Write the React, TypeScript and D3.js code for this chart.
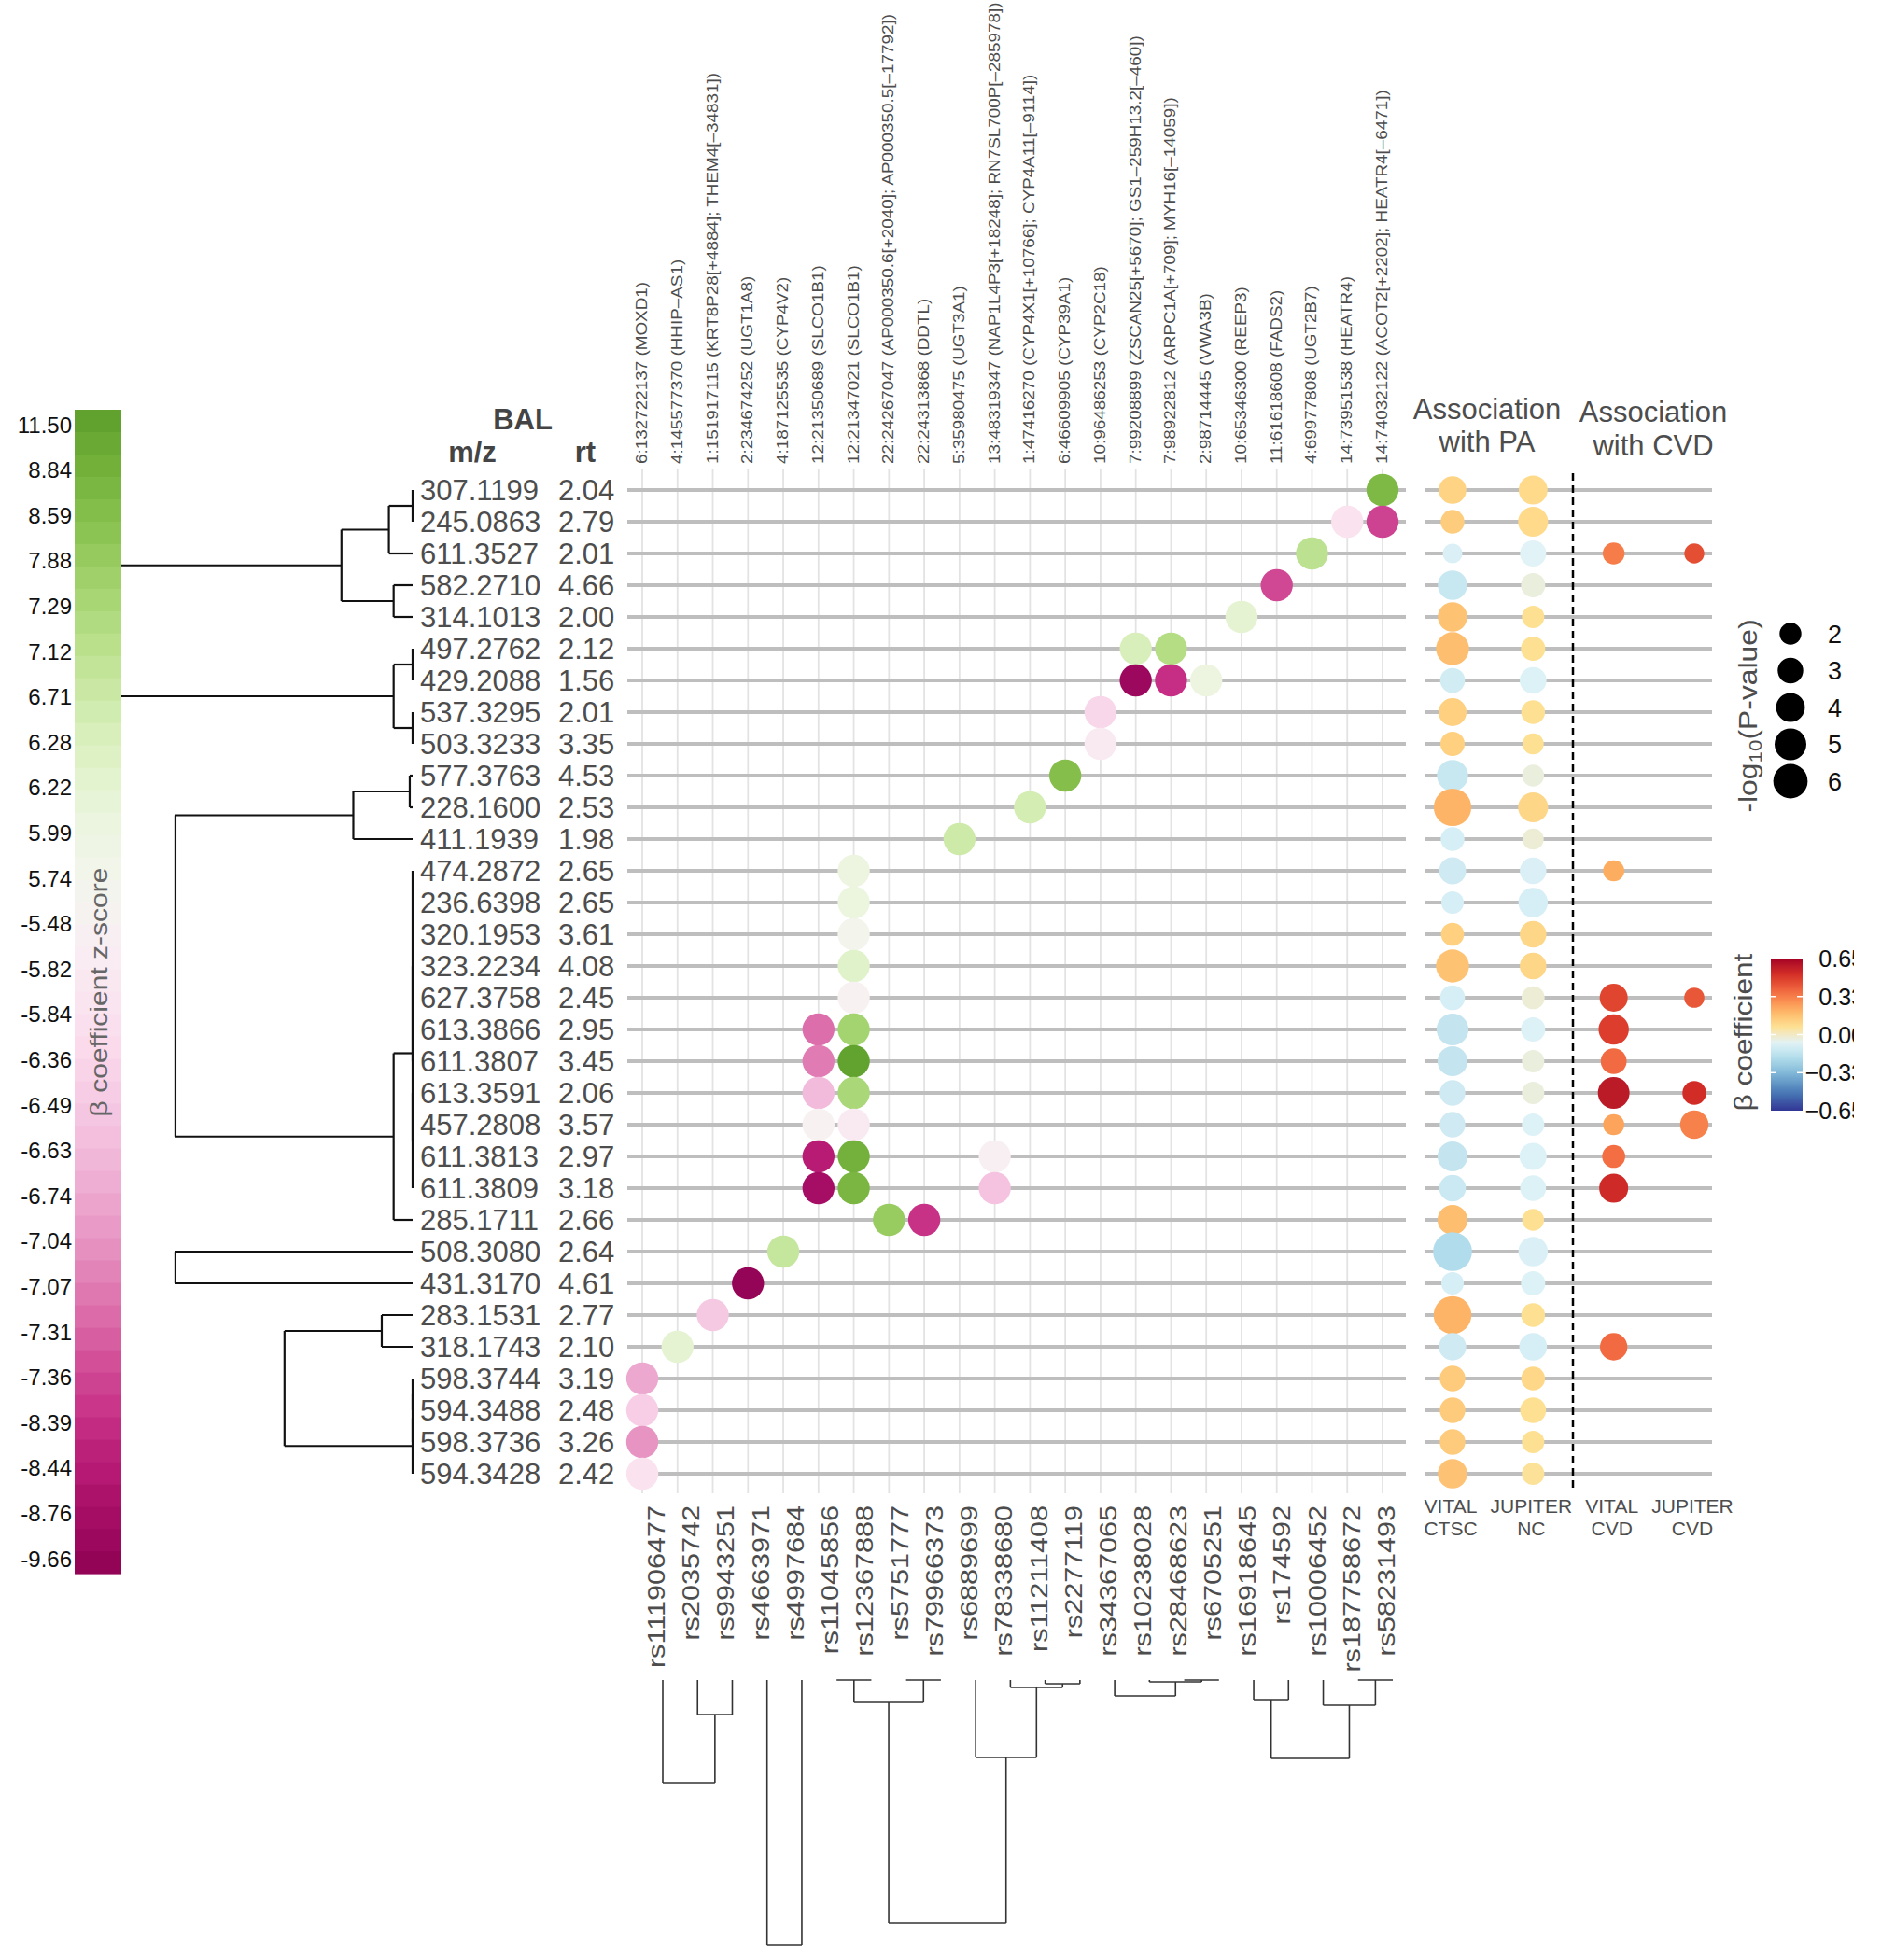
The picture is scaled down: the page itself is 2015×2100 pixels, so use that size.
import React, { useEffect } from "react";
import * as d3 from "d3";

// metabolite rows (BAL)
const mzLabels = [
  "307.1199", "245.0863", "611.3527", "582.2710", "314.1013", "497.2762", "429.2088", "537.3295",
  "503.3233", "577.3763", "228.1600", "411.1939", "474.2872", "236.6398", "320.1953", "323.2234",
  "627.3758", "613.3866", "611.3807", "613.3591", "457.2808", "611.3813", "611.3809", "285.1711",
  "508.3080", "431.3170", "283.1531", "318.1743", "598.3744", "594.3488", "598.3736", "594.3428",
];
const rtLabels = [
  "2.04", "2.79", "2.01", "4.66", "2.00", "2.12", "1.56", "2.01", "3.35", "4.53", "2.53", "1.98",
  "2.65", "2.65", "3.61", "4.08", "2.45", "2.95", "3.45", "2.06", "3.57", "2.97", "3.18", "2.66",
  "2.64", "4.61", "2.77", "2.10", "3.19", "2.48", "3.26", "2.42",
];

// SNP columns
const snpPositions = [
  "6:132722137 (MOXD1)", "4:145577370 (HHIP\u2013AS1)", "1:151917115 (KRT8P28[+4884]; THEM4[\u201334831])",
  "2:234674252 (UGT1A8)", "4:187125535 (CYP4V2)", "12:21350689 (SLCO1B1)", "12:21347021 (SLCO1B1)",
  "22:24267047 (AP000350.6[+2040]; AP000350.5[\u201317792])", "22:24313868 (DDTL)", "5:35980475 (UGT3A1)",
  "13:48319347 (NAP1L4P3[+18248]; RN7SL700P[\u2013285978])", "1:47416270 (CYP4X1[+10766]; CYP4A11[\u20139114])",
  "6:46609905 (CYP39A1)", "10:96486253 (CYP2C18)", "7:99208899 (ZSCAN25[+5670]; GS1\u2013259H13.2[\u2013460])",
  "7:98922812 (ARPC1A[+709]; MYH16[\u201314059])", "2:98714445 (VWA3B)", "10:65346300 (REEP3)",
  "11:61618608 (FADS2)", "4:69977808 (UGT2B7)", "14:73951538 (HEATR4)", "14:74032122 (ACOT2[+2202]; HEATR4[\u20136471])",
];
const snpIds = [
  "rs111906477", "rs2035742", "rs9943251", "rs4663971", "rs4997684", "rs11045856", "rs12367888",
  "rs5751777", "rs79966373", "rs6889699", "rs78338680", "rs11211408", "rs2277119", "rs34367065",
  "rs10238028", "rs28468623", "rs6705251", "rs16918645", "rs174592", "rs10006452", "rs187758672", "rs58231493",
];

// z-score legend ticks
const zTicks = [
  11.5, 8.84, 8.59, 7.88, 7.29, 7.12, 6.71, 6.28, 6.22, 5.99, 5.74, -5.48, -5.82, -5.84, -6.36, -6.49,
  -6.63, -6.74, -7.04, -7.07, -7.31, -7.36, -8.39, -8.44, -8.76, -9.66,
];

// per metabolite row: [snp column, beta z-score]
const zDots: [number, number][][] = [
  [[21, 8.7]], [[20, -5.84], [21, -7.5]], [[19, 7.12]], [[18, -7.36]], [[17, 6.22]],
  [[14, 6.35], [15, 7.2]], [[14, -9.3], [15, -8.39], [16, 6.0]], [[13, -6.36]], [[13, -5.82]],
  [[12, 8.6]], [[11, 6.5]], [[9, 6.71]], [[6, 5.99]], [[6, 6.05]], [[6, 5.74]], [[6, 6.25]],
  [[6, -5.48]], [[5, -7.2], [6, 7.5]], [[5, -7.07], [6, 11.5]], [[5, -6.63], [6, 7.3]],
  [[5, -5.48], [6, -5.82]], [[5, -8.44], [6, 8.84], [10, -5.6]], [[5, -8.76], [6, 8.75], [10, -6.55]],
  [[7, 7.88], [8, -8.2]], [[4, 6.9]], [[3, -9.66]], [[2, -6.49]], [[1, 6.22]],
  [[0, -6.74]], [[0, -6.45]], [[0, -7.04]], [[0, -5.84]],
];

// association with PA
const ctscBeta = [
  0.11, 0.13, -0.09, -0.14, 0.16, 0.17, -0.11, 0.12, 0.12, -0.14, 0.2, -0.1, -0.12, -0.1, 0.12, 0.16,
  -0.1, -0.15, -0.15, -0.12, -0.12, -0.15, -0.13, 0.17, -0.2, -0.1, 0.2, -0.12, 0.135, 0.135, 0.135, 0.158,
];
const ctscLogP = [
  3.6, 2.5, 1.5, 4.2, 4.2, 5.5, 2.8, 3.76, 2.64, 4.8, 7.3, 2.5, 3.46, 2.14, 2.3, 5.5,
  2.8, 5.1, 4.4, 3.0, 3.0, 4.4, 3.35, 4.4, 7.9, 2.14, 7.4, 3.55, 3.0, 3.0, 3.0, 4.2,
];
const ncBeta = [
  0.09, 0.09, -0.07, -0.035, 0.07, 0.07, -0.08, 0.07, 0.07, -0.035, 0.1, -0.025, -0.09, -0.1, 0.1, 0.1,
  -0.025, -0.08, -0.035, -0.035, -0.08, -0.08, -0.08, 0.07, -0.09, -0.08, 0.07, -0.1, 0.095, 0.07, 0.07, 0.06,
];
const ncLogP = [
  4.0, 4.4, 3.2, 2.64, 2.14, 2.64, 3.35, 2.5, 1.85, 2.0, 4.4, 1.85, 3.3, 4.2, 3.3, 3.3,
  2.3, 2.64, 2.14, 2.14, 2.14, 3.46, 3.1, 2.0, 4.2, 2.64, 2.5, 3.65, 2.5, 3.1, 2.14, 2.14,
];
// association with CVD: [row, beta, -log10 p]
const vitalCvd: [number, number, number][] = [
  [2, 0.33, 2.0], [12, 0.22, 1.85], [16, 0.46, 3.76], [17, 0.48, 4.5], [18, 0.37, 3.1],
  [19, 0.585, 5.0], [20, 0.24, 1.85], [21, 0.36, 2.3], [22, 0.53, 4.06], [27, 0.37, 3.55],
];
const jupiterCvd: [number, number, number][] = [
  [2, 0.44, 1.55], [16, 0.42, 1.6], [19, 0.52, 2.5], [20, 0.32, 3.86],
];

const studyCols = ["VITAL CTSC", "JUPITER NC", "VITAL CVD", "JUPITER CVD"];
const sizeBreaks = [2, 3, 4, 5, 6];
const betaBreaks = [0.65, 0.325, 0, -0.325, -0.65];
const betaBreakLabels = ["0.65", "0.33", "0.00", "\u22120.33", "\u22120.65"];

// dendrograms: leaf = index, node = { h: height, c: children }
type DNode = number | { h: number; c: DNode[] };
const rowTrees: DNode[] = [
  { h: 13, c: [
    { h: 3, c: [{ h: 1, c: [{ h: 0, c: [0, 1] }, 2] }, { h: 0.8, c: [3, 4] }] },
    { h: 0.8, c: [{ h: 0, c: [5, 6] }, { h: 0, c: [7, 8] }] },
  ] },
  { h: 10, c: [
    { h: 2.5, c: [{ h: 0.12, c: [9, 10] }, 11] },
    { h: 0.8, c: [{ h: 0, c: [{ h: 0, c: [12, 13, 14, 15, 16, 17, 18] }, { h: 0, c: [19, 20, 21, 22] }] }, 23] },
  ] },
  { h: 10, c: [24, 25] },
  { h: 5.4, c: [{ h: 1.3, c: [26, 27] }, { h: 0, c: [{ h: 0, c: [{ h: 0, c: [28, 29] }, 30] }, 31] }] },
];
const colTrees: DNode[] = [
  { h: 1.1, c: [0, { h: 0.37, c: [1, 2] }] },
  { h: 2.84, c: [3, 4] },
  { h: 2.6, c: [
    { h: 0.24, c: [{ h: 0, c: [5, 6] }, { h: 0, c: [7, 8] }] },
    { h: 0.83, c: [9, { h: 0.08, c: [10, { h: 0.04, c: [11, 12] }] }] },
  ] },
  { h: 0.17, c: [13, { h: 0.02, c: [14, { h: 0, c: [15, 16] }] }] },
  { h: 0.84, c: [{ h: 0.21, c: [17, 18] }, { h: 0.27, c: [19, { h: 0, c: [20, 21] }] }] },
];

type Seg = { a1: number; h1: number; a2: number; h2: number };
function walk(node: DNode, pos: (i: number) => number, hs: (h: number) => number, out: Seg[]): { p: number; hp: number } {
  if (typeof node === "number") return { p: pos(node), hp: hs(0) };
  const kids = node.c.map((k) => walk(k, pos, hs, out));
  const hp = hs(node.h);
  const first = kids[0].p;
  const last = kids[kids.length - 1].p;
  out.push({ a1: first, h1: hp, a2: last, h2: hp });
  kids.forEach((k) => out.push({ a1: k.p, h1: hp, a2: k.p, h2: k.hp }));
  return { p: (first + last) / 2, hp };
}

const FONT = "'Liberation Sans', Arial, Helvetica, sans-serif";
const W = 2015;
const H = 2100;

export default function App() {
  useEffect(() => {
    document.body.style.margin = "0";
  }, []);

  const rowY = d3.scalePoint<number>().domain(d3.range(32)).range([525, 1579]);
  const colX = d3.scalePoint<number>().domain(d3.range(22)).range([688, 1481]);
  const leafX = d3.scalePoint<number>().domain(d3.range(22)).range([710, 1492]);
  const studyX = d3.scalePoint<string>().domain(studyCols).range([1556, 1815]);

  // left legend
  const barTop = 439;
  const barBottom = 1686;
  const tickY = d3.scalePoint<number>().domain(d3.range(zTicks.length)).range([barTop, barBottom]).padding(0.33);
  const zToY = d3.scaleLinear().domain(zTicks).range(zTicks.map((_, i) => tickY(i) as number)).clamp(true);
  const piyg = (f: number) => {
    const mid = 0.422;
    const t = f < mid ? 0.5 + ((mid - f) / mid) * 0.37 : (0.5 * (1 - f)) / (1 - mid);
    return d3.interpolatePiYG(t);
  };
  const zColor = (z: number) => piyg((zToY(z) - barTop) / (barBottom - barTop));
  const nBlocks = 52;
  const blockH = (barBottom - barTop) / nBlocks;

  // beta colour + size
  const rdylbu = ["#313695", "#4575b4", "#74add1", "#abd9e9", "#e0f3f8", "#fee090", "#fdae61", "#f46d43", "#d73027", "#a50026"];
  const betaColor = d3
    .scaleLinear<string>()
    .domain(rdylbu.map((_, i) => -0.65 + (i * 1.3) / (rdylbu.length - 1)))
    .range(rdylbu)
    .interpolate(d3.interpolateLab)
    .clamp(true);
  const rScale = d3.scaleRadial().domain([2, 6]).range([11.7, 18.4]);
  const betaY = d3.scaleLinear().domain([-0.65, 0.65]).range([1190, 1027]);
  const sizeY = d3.scalePoint<number>().domain(sizeBreaks).range([679, 837]);

  // dendrograms
  const rowH = d3.scaleLinear().domain([0, 13.5]).range([442, 99]);
  const colH = d3.scaleLinear().domain([0, 3]).range([1800, 2100]);
  const rowSegs: Seg[] = [];
  rowTrees.forEach((t) => walk(t, (i) => rowY(i) as number, rowH, rowSegs));
  const colSegs: Seg[] = [];
  colTrees.forEach((t) => walk(t, (i) => leafX(i) as number, colH, colSegs));

  const grey = "#4d4d4d";

  return (
    <svg
      width={W}
      height={H}
      viewBox={`0 0 ${W} ${H}`}
      style={{ position: "absolute", left: 0, top: 0, background: "#fff" }}
      fontFamily={FONT}
    >
      <defs>
        <linearGradient id="betaGrad" x1="0" y1="1" x2="0" y2="0">
          {d3.range(0, 1.0001, 0.05).map((o) => (
            <stop key={o} offset={o} stopColor={betaColor(-0.65 + o * 1.3)} />
          ))}
        </linearGradient>
        <clipPath id="edgeClip">
          <rect x={0} y={0} width={1986} height={H} />
        </clipPath>
      </defs>
      <rect x={0} y={0} width={W} height={H} fill="#fff" />

      {/* row dendrogram */}
      <g stroke="#111" strokeWidth={2.2} fill="none">
        {rowSegs.map((s, i) => (
          <line key={i} x1={s.h1} y1={s.a1} x2={s.h2} y2={s.a2} />
        ))}
      </g>

      {/* z-score legend bar */}
      <g>
        {d3.range(nBlocks).map((b) => (
          <rect
            key={b}
            x={80}
            y={barTop + b * blockH}
            width={50}
            height={blockH + 0.6}
            fill={piyg((b + 0.5) / nBlocks)}
          />
        ))}
        {zTicks.map((z, i) => (
          <text key={i} x={77} y={(tickY(i) as number) + 8.6} fontSize={24} textAnchor="end" fill="#111">
            {z.toFixed(2)}
          </text>
        ))}
        <text
          transform={`translate(115,1063) rotate(-90) scale(1.2,1)`}
          fontSize={25}
          textAnchor="middle"
          fill="#666"
        >
          β coefficient z-score
        </text>
      </g>

      {/* headers */}
      <text x={560} y={460} fontSize={31} fontWeight="bold" textAnchor="middle" fill="#444">BAL</text>
      <text x={506} y={495} fontSize={31} fontWeight="bold" textAnchor="middle" fill="#444">m/z</text>
      <text x={627} y={495} fontSize={31} fontWeight="bold" textAnchor="middle" fill="#444">rt</text>

      {/* row labels */}
      {mzLabels.map((m, i) => (
        <g key={m + i} fill={grey} fontSize={31}>
          <text x={450} y={(rowY(i) as number) + 11}>{m}</text>
          <text x={598} y={(rowY(i) as number) + 11}>{rtLabels[i]}</text>
        </g>
      ))}

      {/* main grid */}
      <g stroke="#e3e3e3" strokeWidth={1.8}>
        {snpIds.map((_, j) => (
          <line key={j} x1={colX(j)} x2={colX(j)} y1={503} y2={1600} />
        ))}
      </g>
      <g stroke="#bebebe" strokeWidth={4}>
        {mzLabels.map((_, i) => (
          <line key={i} x1={672} x2={1506} y1={rowY(i)} y2={rowY(i)} />
        ))}
      </g>
      <g>
        {zDots.map((row, i) =>
          row.map(([c, z]) => (
            <circle key={`${i}-${c}`} cx={colX(c)} cy={rowY(i)} r={17.2} fill={zColor(z)} />
          ))
        )}
      </g>

      {/* SNP position labels */}
      {snpPositions.map((s, j) => (
        <text
          key={s}
          transform={`translate(${(colX(j) as number) + 5},497) rotate(-90) scale(1.18,1)`}
          fontSize={16}
          fill={grey}
        >
          {s}
        </text>
      ))}

      {/* rsID labels */}
      {snpIds.map((s, j) => (
        <text
          key={s}
          transform={`translate(${(leafX(j) as number) + 2},1613) rotate(-90) scale(1.2,1)`}
          fontSize={25.5}
          textAnchor="end"
          fill={grey}
        >
          {s}
        </text>
      ))}

      {/* column dendrogram */}
      <g stroke="#333" strokeWidth={1.6} fill="none">
        {colSegs.map((s, i) => (
          <line key={i} x1={s.a1} y1={s.h1} x2={s.a2} y2={s.h2} />
        ))}
      </g>

      {/* association panel */}
      <g stroke="#bebebe" strokeWidth={4}>
        {mzLabels.map((_, i) => (
          <line key={i} x1={1526} x2={1834} y1={rowY(i)} y2={rowY(i)} />
        ))}
      </g>
      <line x1={1685} x2={1685} y1={507} y2={1598} stroke="#000" strokeWidth={2.5} strokeDasharray="8 5" />
      <g>
        {ctscBeta.map((b, i) => (
          <circle key={`c${i}`} cx={studyX("VITAL CTSC")} cy={rowY(i)} r={rScale(ctscLogP[i])} fill={betaColor(b)} />
        ))}
        {ncBeta.map((b, i) => (
          <circle key={`n${i}`} cx={studyX("JUPITER NC")} cy={rowY(i)} r={rScale(ncLogP[i])} fill={betaColor(b)} />
        ))}
        {vitalCvd.map(([i, b, p]) => (
          <circle key={`v${i}`} cx={studyX("VITAL CVD")} cy={rowY(i)} r={rScale(p)} fill={betaColor(b)} />
        ))}
        {jupiterCvd.map(([i, b, p]) => (
          <circle key={`j${i}`} cx={studyX("JUPITER CVD")} cy={rowY(i)} r={rScale(p)} fill={betaColor(b)} />
        ))}
      </g>
      {studyCols.map((s) => {
        const [a, b] = s.split(" ");
        const x = studyX(s) as number;
        return (
          <g key={s} fill={grey} fontSize={21} textAnchor="middle">
            <text x={x - 2} y={1621}>{a}</text>
            <text x={x - 2} y={1645}>{b}</text>
          </g>
        );
      })}
      <g fill={grey} fontSize={31} textAnchor="middle">
        <text x={1593} y={449}>Association</text>
        <text x={1593} y={484}>with PA</text>
        <text x={1771} y={452}>Association</text>
        <text x={1771} y={488}>with CVD</text>
      </g>

      {/* size legend */}
      <text transform="translate(1882,767) rotate(-90) scale(1.18,1)" fontSize={27} textAnchor="middle" fill={grey}>
        -log
        <tspan fontSize={19} dy={5}>10</tspan>
        <tspan dy={-5}>(P-value)</tspan>
      </text>
      {sizeBreaks.map((v) => (
        <g key={v}>
          <circle cx={1918} cy={sizeY(v)} r={rScale(v)} fill="#000" />
          <text x={1958} y={(sizeY(v) as number) + 9.5} fontSize={27} fill="#111">{v}</text>
        </g>
      ))}

      {/* beta legend */}
      <text transform="translate(1877,1106) rotate(-90) scale(1.13,1)" fontSize={28} textAnchor="middle" fill={grey}>
        β coefficient
      </text>
      <rect x={1897} y={betaY(0.65)} width={34} height={betaY(-0.65) - betaY(0.65)} fill="url(#betaGrad)" />
      {betaBreaks.slice(1, -1).map((v) => (
        <g key={v} stroke="#fff" strokeWidth={1.5}>
          <line x1={1897} x2={1903} y1={betaY(v)} y2={betaY(v)} />
          <line x1={1925} x2={1931} y1={betaY(v)} y2={betaY(v)} />
        </g>
      ))}
      <g clipPath="url(#edgeClip)">
        {betaBreaks.map((v, i) => (
          <text key={v} x={1997} y={betaY(v) + 9} fontSize={25} textAnchor="end" fill="#111">
            {betaBreakLabels[i]}
          </text>
        ))}
      </g>
    </svg>
  );
}
